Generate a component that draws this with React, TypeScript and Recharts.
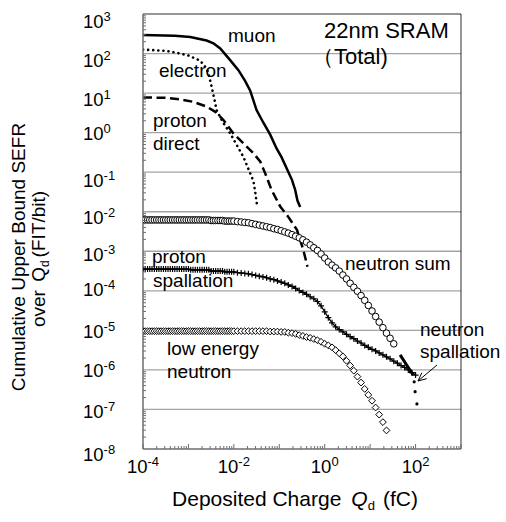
import React from 'react';
import { ComposedChart, Line, Scatter, XAxis, YAxis, ReferenceLine } from 'recharts';

const qdGrid = [
  1.00e-4, 1.12e-4, 1.26e-4, 1.41e-4, 1.58e-4, 1.78e-4, 2.00e-4, 2.24e-4, 2.51e-4, 2.82e-4,
  3.16e-4, 3.55e-4, 3.98e-4, 4.47e-4, 5.01e-4, 5.62e-4, 6.31e-4, 7.08e-4, 7.94e-4, 8.91e-4,
  1.00e-3, 1.12e-3, 1.26e-3, 1.41e-3, 1.58e-3, 1.78e-3, 2.00e-3, 2.24e-3, 2.51e-3, 2.82e-3,
  3.16e-3, 3.55e-3, 3.98e-3, 4.47e-3, 5.01e-3, 5.62e-3, 6.31e-3, 7.08e-3, 7.94e-3, 8.91e-3,
  1.00e-2,
  1.20e-2, 1.45e-2, 1.74e-2, 2.09e-2, 2.51e-2, 3.02e-2, 3.63e-2, 4.37e-2, 5.25e-2, 6.31e-2,
  7.59e-2, 9.12e-2, 0.110, 0.132, 0.158, 0.191, 0.229, 0.275, 0.331, 0.398,
  0.479, 0.575, 0.692, 0.832, 1.00,
  1.20, 1.45, 1.74, 2.09, 2.51, 3.02, 3.63, 4.37, 5.25, 6.31,
  7.59, 9.12, 11.0, 13.2, 15.8, 19.1, 22.9, 27.5, 33.1, 39.8,
  47.9, 57.5, 69.2, 83.2, 100,
];

const neutronSum: (number | null)[] = [
  6.2e-3, 6.2e-3, 6.2e-3, 6.2e-3, 6.2e-3, 6.2e-3, 6.2e-3, 6.2e-3, 6.2e-3, 6.2e-3,
  6.2e-3, 6.2e-3, 6.2e-3, 6.2e-3, 6.2e-3, 6.2e-3, 6.2e-3, 6.2e-3, 6.2e-3, 6.2e-3,
  6.2e-3, 6.2e-3, 6.2e-3, 6.2e-3, 6.2e-3, 6.2e-3, 6.2e-3, 6.2e-3, 6.2e-3, 6.2e-3,
  6.0e-3, 6.0e-3, 6.0e-3, 6.0e-3, 6.0e-3, 6.0e-3, 5.8e-3, 5.8e-3, 5.8e-3, 5.8e-3,
  5.8e-3,
  5.62e-3, 5.50e-3, 5.37e-3, 5.25e-3, 5.01e-3, 4.79e-3, 4.57e-3, 4.37e-3, 4.17e-3, 3.98e-3,
  3.72e-3, 3.55e-3, 3.31e-3, 3.09e-3, 2.88e-3, 2.63e-3, 2.40e-3, 2.19e-3, 1.95e-3, 1.70e-3,
  1.45e-3, 1.23e-3, 1.05e-3, 8.51e-4, 6.76e-4,
  5.37e-4, 4.47e-4, 3.80e-4, 3.16e-4, 2.51e-4, 2.00e-4, 1.55e-4, 1.23e-4, 9.77e-5, 7.59e-5,
  5.75e-5, 4.27e-5, 3.09e-5, 2.24e-5, 1.62e-5, 1.17e-5, 8.51e-6, 6.31e-6, 4.57e-6, null,
  null, null, null, null, null,
];

const protonSpallation: (number | null)[] = [
  3.55e-4, 3.55e-4, 3.55e-4, 3.55e-4, 3.55e-4, 3.55e-4, 3.55e-4, 3.55e-4, 3.55e-4, 3.55e-4,
  3.55e-4, 3.55e-4, 3.55e-4, 3.55e-4, 3.55e-4, 3.55e-4, 3.55e-4, 3.55e-4, 3.55e-4, 3.55e-4,
  3.55e-4, 3.39e-4, 3.39e-4, 3.39e-4, 3.39e-4, 3.39e-4, 3.39e-4, 3.39e-4, 3.39e-4, 3.39e-4,
  3.16e-4, 3.16e-4, 3.16e-4, 3.16e-4, 3.16e-4, 3.16e-4, 3.02e-4, 3.02e-4, 3.02e-4, 3.02e-4,
  3.02e-4,
  2.88e-4, 2.82e-4, 2.75e-4, 2.69e-4, 2.57e-4, 2.45e-4, 2.34e-4, 2.24e-4, 2.14e-4, 2.00e-4,
  1.91e-4, 1.78e-4, 1.66e-4, 1.55e-4, 1.41e-4, 1.29e-4, 1.15e-4, 1.02e-4, 9.12e-5, 8.13e-5,
  7.08e-5, 6.31e-5, 5.37e-5, 4.17e-5, 2.95e-5,
  2.09e-5, 1.55e-5, 1.23e-5, 1.05e-5, 9.12e-6, 7.94e-6, 6.92e-6, 6.17e-6, 5.37e-6, 4.79e-6,
  4.17e-6, 3.72e-6, 3.31e-6, 3.02e-6, 2.69e-6, 2.40e-6, 2.14e-6, 1.91e-6, 1.66e-6, 1.48e-6,
  1.29e-6, 1.15e-6, 1.00e-6, 8.51e-7, 7.41e-7,
];

const lowEnergyNeutron: (number | null)[] = [
  9.55e-6, 9.55e-6, 9.55e-6, 9.55e-6, 9.55e-6, 9.55e-6, 9.55e-6, 9.55e-6, 9.55e-6, 9.55e-6,
  9.55e-6, 9.55e-6, 9.55e-6, 9.55e-6, 9.55e-6, 9.55e-6, 9.55e-6, 9.55e-6, 9.55e-6, 9.55e-6,
  9.55e-6, 9.55e-6, 9.55e-6, 9.55e-6, 9.55e-6, 9.55e-6, 9.55e-6, 9.55e-6, 9.55e-6, 9.55e-6,
  9.55e-6, 9.55e-6, 9.55e-6, 9.55e-6, 9.55e-6, 9.55e-6, 9.55e-6, 9.55e-6, 9.55e-6, 9.55e-6,
  9.55e-6,
  9.55e-6, 9.55e-6, 9.55e-6, 9.55e-6, 9.55e-6, 9.55e-6, 9.55e-6, 9.55e-6, 9.55e-6, 9.33e-6,
  9.33e-6, 9.33e-6, 9.12e-6, 9.12e-6, 8.71e-6, 8.51e-6, 8.13e-6, 7.59e-6, 7.24e-6, 6.76e-6,
  6.46e-6, 6.03e-6, 5.62e-6, 5.13e-6, 4.57e-6,
  4.17e-6, 3.72e-6, 3.16e-6, 2.63e-6, 2.19e-6, 1.70e-6, 1.29e-6, 9.55e-7, 6.76e-7, 4.79e-7,
  3.31e-7, 2.34e-7, 1.66e-7, 1.12e-7, 7.41e-8, 4.79e-8, 2.95e-8, null, null, null,
  null, null, null, null, null,
];

const muonQd = [1.0e-4, 5.01e-4, 1.10e-3, 2.51e-3, 3.55e-3, 5.01e-3, 7.94e-3, 1.26e-2, 1.78e-2, 2.29e-2, 3.16e-2, 4.47e-2, 6.31e-2, 8.71e-2, 0.112, 0.191, 0.224, 0.251, 0.288];
const muonSefr = [295, 282, 263, 214, 182, 135, 72.4, 38.0, 20.0, 11.5, 3.72, 1.78, 0.891, 0.398, 0.240, 0.0631, 0.0355, 0.0191, 0.0132];

const electronQd = [1.0e-4, 3.16e-4, 5.50e-4, 1.0e-3, 1.82e-3, 2.51e-3, 2.75e-3, 3.24e-3, 3.72e-3, 4.17e-3, 5.62e-3, 8.32e-3, 1.62e-2, 2.29e-2, 2.69e-2, 2.95e-2, 3.31e-2];
const electronSefr = [126, 117, 105, 89.1, 66.1, 41.7, 31.6, 14.5, 7.08, 3.72, 1.91, 0.955, 0.245, 0.0933, 0.0603, 0.0316, 0.0123];

const protonDirectQd = [1.0e-4, 3.16e-4, 6.46e-4, 1.26e-3, 2.51e-3, 3.98e-3, 5.89e-3, 9.77e-3, 1.62e-2, 2.69e-2, 3.80e-2, 4.90e-2, 6.76e-2, 0.105, 0.158, 0.245, 0.339, 0.417];
const protonDirectSefr = [7.76, 7.59, 6.92, 6.03, 4.57, 3.31, 2.09, 0.955, 0.537, 0.302, 0.186, 0.0933, 0.0355, 0.0135, 7.41e-3, 3.47e-3, 1.07e-3, 4.07e-4];

const nSpallTailQd = [45.7, 63.1, 89.1];
const nSpallTailSefr = [2.40e-6, 1.35e-6, 7.41e-7];
const nSpallDotQd = [93.3, 97.7, 107];
const nSpallDotSefr = [5.01e-7, 2.82e-7, 1.38e-7];

const xDecades = [1e-4, 1e-3, 1e-2, 1e-1, 1, 10, 100, 1000];
const yDecades = [1e-8, 1e-7, 1e-6, 1e-5, 1e-4, 1e-3, 1e-2, 1e-1, 1, 10, 100, 1000];
const xLabelExps = [-4, -2, 0, 2];
const minorSteps = [2, 3, 4, 5, 6, 7, 8, 9];

const X_MIN = xDecades[0];
const X_MAX = xDecades[xDecades.length - 1];
const Y_MIN = yDecades[0];
const Y_MAX = yDecades[yDecades.length - 1];

const pts = (xs: number[], ys: (number | null)[]) =>
  xs.map((x, i) => ({ x, y: ys[i] })).filter((p) => p.y != null && (p.y as number) > 0);

const withMinor = (decs: number[]) => {
  const out: number[] = [];
  decs.forEach((d, i) => {
    out.push(d);
    if (i < decs.length - 1) minorSteps.forEach((m) => out.push(d * m));
  });
  return out;
};

const FONT = '"Liberation Sans", Arial, sans-serif';
const AX = '#6e6e72';

const expOf = (v: number) => Math.round(Math.log10(v));
const isMajor = (v: number) => Math.abs(v / Math.pow(10, expOf(v)) - 1) < 1e-6;

const yLabelShift: Record<number, number> = { 3: 7, 2: 7, 1: 6, 0: 1, [-1]: 8, [-2]: 6, [-3]: 3, [-4]: -1, [-5]: 1, [-6]: 1, [-7]: 2, [-8]: 5 };

const XTick = (props: any) => {
  const { x, y, payload } = props;
  const v = payload.value as number;
  const e = expOf(v);
  const major = isMajor(v);
  return (
    <g>
      <rect x={x - 0.5} y={y - (major ? 5 : 3)} width={1} height={major ? 5 : 3} fill={AX} />
      {major && xLabelExps.includes(e) && (
        <text x={x} y={y + 24} textAnchor="middle" fontSize={18.5} fontFamily={FONT} fill="#000">
          10<tspan dy={-7} fontSize={13}>{String(e)}</tspan>
        </text>
      )}
    </g>
  );
};

const YTick = (props: any) => {
  const { x, y, payload } = props;
  const v = payload.value as number;
  const e = expOf(v);
  const major = isMajor(v);
  return (
    <g>
      {!major && <rect x={x} y={y - 0.5} width={3} height={1} fill={AX} />}
      {major && (
        <text x={x - 60} y={y + (yLabelShift[e] ?? 3) + 6.5} textAnchor="start" fontSize={18.5} fontFamily={FONT} fill="#000">
          10<tspan dy={-7} fontSize={13}>{String(e)}</tspan>
        </text>
      )}
    </g>
  );
};

const OpenCircle = (p: any) => <circle cx={p.cx} cy={p.cy} r={3.3} fill="#fff" stroke="#000" strokeWidth={1} />;
const OpenDiamond = (p: any) => (
  <polygon points={`${p.cx},${p.cy - 3.4} ${p.cx + 3.4},${p.cy} ${p.cx},${p.cy + 3.4} ${p.cx - 3.4},${p.cy}`} fill="#fff" stroke="#000" strokeWidth={1} />
);
const Cross = (p: any) => (
  <path d={`M${p.cx - 3},${p.cy}h6M${p.cx},${p.cy - 3}v6`} stroke="#000" strokeWidth={1.2} fill="none" />
);
const SmallDot = (p: any) => <circle cx={p.cx} cy={p.cy} r={1.6} fill="#000" />;

export default function App() {
  const nsData = pts(qdGrid, neutronSum);
  const psData = pts(qdGrid, protonSpallation);
  const leData = pts(qdGrid, lowEnergyNeutron);
  const muData = pts(muonQd, muonSefr);
  const elData = pts(electronQd, electronSefr);
  const pdData = pts(protonDirectQd, protonDirectSefr);
  const tailData = pts(nSpallTailQd, nSpallTailSefr);
  const dotData = pts(nSpallDotQd, nSpallDotSefr);

  const txt = { fontFamily: FONT, fill: '#000' } as const;

  return (
    <div style={{ position: 'absolute', left: 0, top: 0, width: 506, height: 522, background: '#fff' }}>
      <ComposedChart width={506} height={522} margin={{ top: 14, right: 45, left: 0, bottom: 0 }}>
        <XAxis
          type="number"
          dataKey="x"
          scale="log"
          domain={[X_MIN, X_MAX]}
          allowDataOverflow
          ticks={withMinor(xDecades)}
          interval={0}
          tick={<XTick />}
          tickLine={false}
          tickSize={0}
          tickMargin={0}
          axisLine={{ stroke: AX, strokeWidth: 1.5 }}
          height={73}
        />
        <YAxis
          type="number"
          dataKey="y"
          scale="log"
          domain={[Y_MIN, Y_MAX]}
          allowDataOverflow
          ticks={withMinor(yDecades)}
          interval={0}
          tick={<YTick />}
          tickLine={false}
          tickSize={0}
          tickMargin={0}
          axisLine={{ stroke: AX, strokeWidth: 1.5 }}
          width={143}
        />

        <Line data={psData} dataKey="y" stroke="#000" strokeWidth={1.3} dot={false} isAnimationActive={false} />
        <Scatter data={psData} shape={<Cross />} isAnimationActive={false} />
        <Scatter data={leData} shape={<OpenDiamond />} isAnimationActive={false} />
        <Scatter data={nsData} shape={<OpenCircle />} isAnimationActive={false} />
        <Line data={tailData} dataKey="y" stroke="#000" strokeWidth={3} dot={false} isAnimationActive={false} />
        <Scatter data={dotData} shape={<SmallDot />} isAnimationActive={false} />

        <Line data={muData} dataKey="y" stroke="#000" strokeWidth={2.5} dot={false} isAnimationActive={false} />
        <Line data={elData} dataKey="y" stroke="#000" strokeWidth={2.6} strokeDasharray="0.1 5" strokeLinecap="round" dot={false} isAnimationActive={false} />
        <Line data={pdData} dataKey="y" stroke="#000" strokeWidth={2.5} strokeDasharray="9 4.5" dot={false} isAnimationActive={false} />

        <ReferenceLine y={1e-7} stroke="#000" strokeOpacity={0.36} strokeWidth={1.3} />
        <ReferenceLine y={1e-6} stroke="#000" strokeOpacity={0.36} strokeWidth={1.3} />
        <ReferenceLine y={1e-5} stroke="#000" strokeOpacity={0.36} strokeWidth={1.3} />
        <ReferenceLine y={1e-4} stroke="#000" strokeOpacity={0.36} strokeWidth={1.3} />
        <ReferenceLine y={1e-3} stroke="#000" strokeOpacity={0.36} strokeWidth={1.3} />
        <ReferenceLine y={1e-2} stroke="#000" strokeOpacity={0.36} strokeWidth={1.3} />
        <ReferenceLine y={1e-1} stroke="#000" strokeOpacity={0.36} strokeWidth={1.3} />
        <ReferenceLine y={1} stroke="#000" strokeOpacity={0.36} strokeWidth={1.3} />
        <ReferenceLine y={10} stroke="#000" strokeOpacity={0.36} strokeWidth={1.3} />
        <ReferenceLine y={100} stroke="#000" strokeOpacity={0.36} strokeWidth={1.3} />
        <ReferenceLine y={Y_MAX} stroke="#000" strokeOpacity={0.55} strokeWidth={1.5} />
        <ReferenceLine x={X_MAX} stroke="#000" strokeOpacity={0.55} strokeWidth={1.5} />
      </ComposedChart>

      <svg width={506} height={522} style={{ position: 'absolute', left: 0, top: 0, pointerEvents: 'none' }}>
        <text {...txt} x={228} y={42} fontSize={19}>muon</text>
        <text {...txt} x={324} y={38} fontSize={22}>22nm SRAM</text>
        <text {...txt} x={312} y={64} fontSize={22}>（Total)</text>
        <text {...txt} x={159} y={77} fontSize={19}>electron</text>
        <text {...txt} x={153} y={127} fontSize={19}>proton</text>
        <text {...txt} x={153} y={150} fontSize={19}>direct</text>
        <text {...txt} x={152} y={263} fontSize={19}>proton</text>
        <text {...txt} x={153} y={287} fontSize={19}>spallation</text>
        <text {...txt} x={167} y={355} fontSize={19}>low energy</text>
        <text {...txt} x={167} y={378} fontSize={19}>neutron</text>
        <text {...txt} x={345} y={270} fontSize={19}>neutron sum</text>
        <text {...txt} x={420} y={336} fontSize={19}>neutron</text>
        <text {...txt} x={420} y={358} fontSize={19}>spallation</text>
        <path d="M437,365L418,381M421.8,372.8L418,381L426.7,378.7" fill="none" stroke="#000" strokeWidth={1} />

        <text {...txt} fontSize={19} transform="translate(25,257) rotate(-90)" textAnchor="middle">
          Cumulative Upper Bound SEFR
        </text>
        <text {...txt} fontSize={19} transform="translate(45,259) rotate(-90)" textAnchor="middle">
          over <tspan dx={3}>Q</tspan><tspan fontSize={12} dy={4}>d</tspan><tspan dy={-4} dx={3}>(FIT/bit)</tspan>
        </text>
        <text {...txt} fontSize={21} x={295} y={506} textAnchor="middle">
          Deposited Charge<tspan dx={10} fontStyle="italic">Q</tspan><tspan fontSize={13} dy={4}>d</tspan><tspan dy={-4} dx={8}>(fC)</tspan>
        </text>
      </svg>
    </div>
  );
}
